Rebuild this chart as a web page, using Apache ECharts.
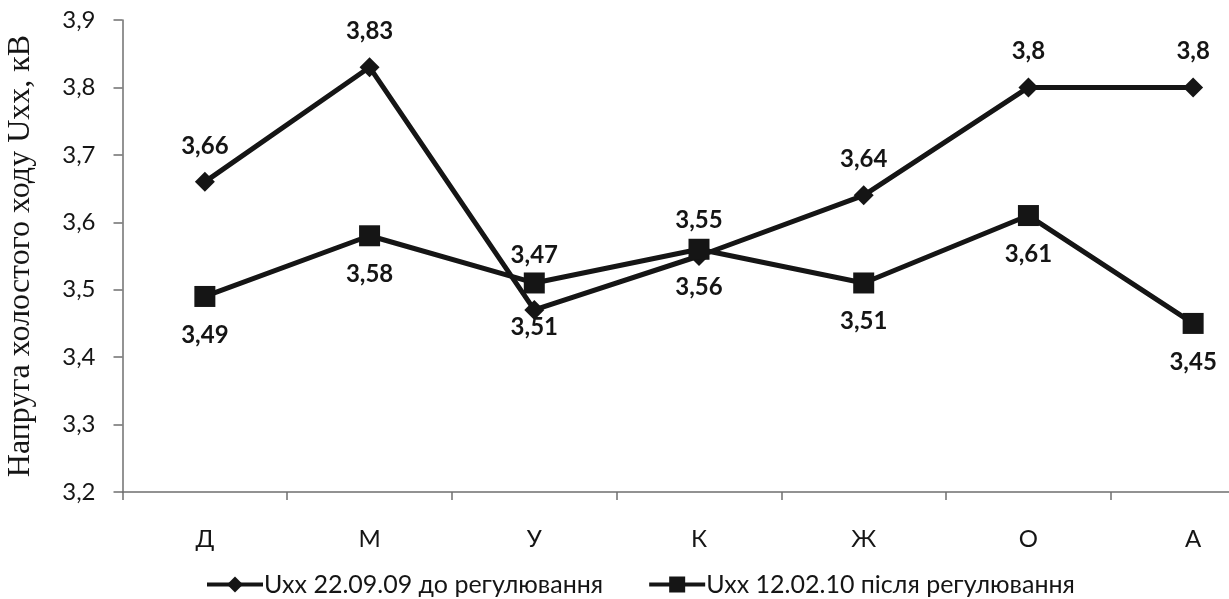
<!DOCTYPE html>
<html>
<head>
<meta charset="utf-8">
<script src="https://cdn.jsdelivr.net/npm/echarts@6/dist/echarts.min.js"></script>
<style>
  html, body { margin: 0; padding: 0; background: #fff; }
  #chart { width: 1229px; height: 599px; }
</style>
</head>
<body>
<div id="chart"></div>
<script>
// Categories along the x axis
const categories = ['Д', 'М', 'У', 'К', 'Ж', 'О', 'А'];
// No-load voltage before adjustment (22.09.09)
const before = [3.66, 3.83, 3.47, 3.55, 3.64, 3.8, 3.8];
// No-load voltage after adjustment (12.02.10)
const after = [3.49, 3.58, 3.51, 3.56, 3.51, 3.61, 3.45];
const seriesNames = ['Uxx 22.09.09 до регулювання', 'Uxx 12.02.10 після регулювання'];
const yTitle = 'Напруга холостого ходу Uxx, кВ';

const ink = '#151515';
const axisGray = '#6f6f6f';
const fmt = v => String(v).replace('.', ',');

// Labels at the crossing point (index 2) are nudged apart so they do not overlap the markers
const beforeData = before.map((v, i) => i === 2 ? { value: v, label: { offset: [0, -19] } } : v);
const afterData = after.map((v, i) => i === 2 ? { value: v, label: { offset: [0, 6] } } : v);

const chart = echarts.init(document.getElementById('chart'), null, { renderer: 'canvas' });
chart.setOption({
  backgroundColor: '#fff',
  animation: false,
  grid: { left: 122.5, top: 20, width: 1153, height: 472, containLabel: false, outerBoundsMode: 'none' },
  legend: {
    left: 200,
    top: 567,
    itemWidth: 56,
    itemHeight: 20,
    itemGap: 44,
    lineStyle: { width: 4 },
    textStyle: { fontFamily: 'Lato', fontSize: 25, color: ink, padding: [0, 0, 0, -4] },
    data: seriesNames
  },
  xAxis: {
    type: 'category',
    data: categories,
    boundaryGap: true,
    axisLine: { lineStyle: { color: axisGray, width: 1.5 } },
    axisTick: { show: true, length: 8, inside: false, lineStyle: { color: axisGray, width: 1.5 } },
    axisLabel: { fontFamily: 'Lato', fontSize: 24, color: ink, margin: 35 }
  },
  yAxis: {
    type: 'value',
    min: 3.2,
    max: 3.9,
    interval: 0.1,
    name: yTitle,
    nameLocation: 'middle',
    nameGap: 86,
    nameRotate: 90,
    nameTextStyle: { fontFamily: 'Liberation Serif', fontSize: 32, color: ink },
    splitLine: { show: false },
    axisLine: { show: true, lineStyle: { color: axisGray, width: 1.5 } },
    axisTick: { show: true, length: 9, lineStyle: { color: axisGray, width: 1.5 } },
    axisLabel: {
      fontFamily: 'Lato', fontSize: 24, color: ink, margin: 27,
      formatter: v => fmt(Math.round(v * 10) / 10)
    }
  },
  series: [
    {
      name: seriesNames[0],
      type: 'line',
      data: beforeData,
      symbol: 'diamond',
      symbolSize: 20,
      lineStyle: { color: ink, width: 5 },
      itemStyle: { color: ink },
      label: {
        show: true, position: 'top', distance: 14,
        fontFamily: 'Lato', fontWeight: 'bold', fontSize: 24, color: ink,
        formatter: p => fmt(p.value)
      },
      z: 2
    },
    {
      name: seriesNames[1],
      type: 'line',
      data: afterData,
      symbol: 'rect',
      symbolSize: 21,
      lineStyle: { color: ink, width: 5 },
      itemStyle: { color: ink },
      label: {
        show: true, position: 'bottom', distance: 16,
        fontFamily: 'Lato', fontWeight: 'bold', fontSize: 24, color: ink,
        formatter: p => fmt(p.value)
      },
      z: 3
    }
  ]
});
</script>
</body>
</html>
